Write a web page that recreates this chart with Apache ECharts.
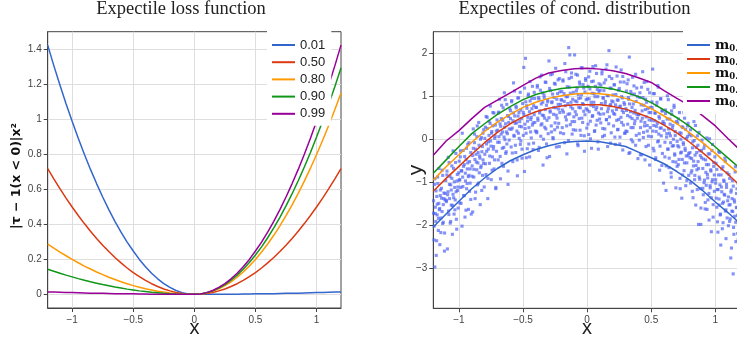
<!DOCTYPE html>
<html>
<head>
<meta charset="utf-8">
<script src="https://cdn.jsdelivr.net/npm/echarts@6/dist/echarts.min.js"></script>
<style>html,body{margin:0;padding:0;background:#fff;}#c{width:737px;height:341px;}</style>
</head>
<body>
<div id="c"></div>
<script>
// ---------- Left panel: expectile loss ----------
const xLoss = [-1.2,-1.15,-1.1,-1.05,-1.0,-0.95,-0.9,-0.85,-0.8,-0.75,-0.7,-0.65,-0.6,-0.55,-0.5,-0.45,-0.4,-0.35,-0.3,-0.25,-0.2,-0.15,-0.1,-0.05,0,
  0.05,0.1,0.15,0.2,0.25,0.3,0.35,0.4,0.45,0.5,0.55,0.6,0.65,0.7,0.75,0.8,0.85,0.9,0.95,1.0,1.05,1.1,1.15,1.2];
const loss001 = [1.426,1.309,1.198,1.091,0.990,0.893,0.802,0.715,0.634,0.557,0.485,0.418,0.356,0.299,0.248,0.200,0.158,0.121,0.089,0.062,0.040,0.022,0.010,0.002,0,
  0.000,0.000,0.000,0.000,0.001,0.001,0.001,0.002,0.002,0.003,0.003,0.004,0.004,0.005,0.006,0.006,0.007,0.008,0.009,0.010,0.011,0.012,0.013,0.014];
const loss050 = [0.720,0.661,0.605,0.551,0.500,0.451,0.405,0.361,0.320,0.281,0.245,0.211,0.180,0.151,0.125,0.101,0.080,0.061,0.045,0.031,0.020,0.011,0.005,0.001,0,
  0.001,0.005,0.011,0.020,0.031,0.045,0.061,0.080,0.101,0.125,0.151,0.180,0.211,0.245,0.281,0.320,0.361,0.405,0.451,0.500,0.551,0.605,0.661,0.720];
const loss080 = [0.288,0.265,0.242,0.221,0.200,0.181,0.162,0.145,0.128,0.113,0.098,0.085,0.072,0.061,0.050,0.041,0.032,0.025,0.018,0.013,0.008,0.005,0.002,0.001,0,
  0.002,0.008,0.018,0.032,0.050,0.072,0.098,0.128,0.162,0.200,0.242,0.288,0.338,0.392,0.450,0.512,0.578,0.648,0.722,0.800,0.882,0.968,1.058,1.152];
const loss090 = [0.144,0.132,0.121,0.110,0.100,0.090,0.081,0.072,0.064,0.056,0.049,0.042,0.036,0.030,0.025,0.020,0.016,0.012,0.009,0.006,0.004,0.002,0.001,0.000,0,
  0.002,0.009,0.020,0.036,0.056,0.081,0.110,0.144,0.182,0.225,0.272,0.324,0.380,0.441,0.506,0.576,0.650,0.729,0.812,0.900,0.992,1.089,1.190,1.296];
const loss099 = [0.014,0.013,0.012,0.011,0.010,0.009,0.008,0.007,0.006,0.006,0.005,0.004,0.004,0.003,0.003,0.002,0.002,0.001,0.001,0.001,0.000,0.000,0.000,0.000,0,
  0.002,0.010,0.022,0.040,0.062,0.089,0.121,0.158,0.200,0.248,0.299,0.356,0.418,0.485,0.557,0.634,0.715,0.802,0.893,0.990,1.091,1.198,1.309,1.426];
const lossNames = ['0.01','0.50','0.80','0.90','0.99'];
const leftXTicks = [-1,-0.5,0,0.5,1];
const leftYTicks = [0,0.2,0.4,0.6,0.8,1,1.2,1.4];

// ---------- Right panel: expectile curves of conditional distribution ----------
const xCurve = [-1.2,-1.1,-1.0,-0.9,-0.8,-0.7,-0.6,-0.5,-0.4,-0.3,-0.2,-0.1,0,0.1,0.2,0.3,0.4,0.5,0.6,0.7,0.8,0.9,1.0,1.1,1.2];
const m001 = [-2.04,-1.74,-1.44,-1.15,-0.90,-0.68,-0.50,-0.36,-0.24,-0.15,-0.08,-0.05,-0.04,-0.06,-0.11,-0.17,-0.30,-0.43,-0.57,-0.75,-0.95,-1.19,-1.46,-1.71,-1.98];
const m050 = [-1.21,-0.91,-0.63,-0.35,-0.08,0.16,0.36,0.52,0.64,0.72,0.77,0.80,0.80,0.80,0.76,0.70,0.60,0.49,0.33,0.15,-0.07,-0.31,-0.56,-0.82,-1.10];
const m080 = [-0.95,-0.64,-0.36,-0.07,0.18,0.40,0.58,0.74,0.86,0.95,1.01,1.05,1.07,1.06,1.02,0.95,0.85,0.71,0.54,0.36,0.15,-0.08,-0.33,-0.59,-0.84];
const m090 = [-0.79,-0.48,-0.17,0.13,0.36,0.58,0.76,0.92,1.04,1.12,1.18,1.21,1.22,1.21,1.17,1.09,0.99,0.85,0.68,0.50,0.30,0.07,-0.18,-0.44,-0.70];
const m099 = [-0.37,-0.04,0.20,0.48,0.74,0.91,1.08,1.25,1.42,1.54,1.60,1.64,1.65,1.63,1.59,1.53,1.43,1.32,1.13,0.95,0.78,0.55,0.31,0.01,-0.27];
const curveNames = ['m0.01','m0.50','m0.80','m0.90','m0.99'];
const rightXTicks = [-1,-0.5,0,0.5,1];
const rightYTicks = [-3,-2,-1,0,1,2];

const scatterPoints = [
[-1.198,-1.72],[-1.195,-2.34],[-1.191,-1.05],[-1.188,-2.97],[-1.184,-1.58],[-1.181,-1.91],[-1.177,-2.70],[-1.173,-1.33],[-1.170,-1.76],[-1.166,-0.88],[-1.161,-2.12],[-1.157,-1.49],[-1.153,-1.64],[-1.149,-2.45],[-1.145,-1.18],[-1.140,-1.83],[-1.136,-1.37],[-1.131,-0.72],[-1.127,-1.96],[-1.122,-1.52],[-1.117,-1.25],[-1.112,-2.18],[-1.108,-1.41],[-1.103,-0.96],
[-1.098,-1.45],[-1.094,-0.83],[-1.090,-2.55],[-1.085,-1.22],[-1.081,-1.67],[-1.077,-0.54],[-1.073,-1.38],[-1.068,-1.95],[-1.064,-1.06],[-1.060,-1.53],[-1.055,-0.91],[-1.051,-2.21],[-1.046,-1.28],[-1.042,-0.68],[-1.038,-1.74],[-1.033,-1.12],[-1.029,-1.41],[-1.024,-0.33],[-1.020,-1.86],[-1.015,-0.97],[-1.011,-1.19],[-1.006,-1.60],[-1.002,-0.78],
[-0.998,-0.95],[-0.993,-1.48],[-0.989,-0.41],[-0.985,-1.12],[-0.980,-0.73],[-0.976,-2.02],[-0.971,-0.88],[-0.967,-0.26],[-0.962,-1.31],[-0.958,-0.59],[-0.953,-1.81],[-0.949,-0.97],[-0.944,-0.47],[-0.940,-1.15],[-0.935,-0.69],[-0.931,-0.12],[-0.926,-1.63],[-0.922,-0.84],[-0.917,-0.52],[-0.913,-1.02],[-0.908,-0.31],[-0.904,-1.74],
[-0.897,-0.62],[-0.893,-1.69],[-0.888,-0.21],[-0.884,-0.88],[-0.879,0.12],[-0.875,-0.47],[-0.870,-1.23],[-0.866,-0.35],[-0.861,-0.71],[-0.857,0.31],[-0.852,-0.55],[-0.848,-1.02],[-0.843,-0.14],[-0.839,-0.39],[-0.834,-1.52],[-0.830,-0.66],[-0.825,0.04],[-0.821,-0.29],[-0.816,-0.84],[-0.812,-0.48],[-0.807,0.22],[-0.803,-1.11],
[-0.798,-0.35],[-0.794,0.28],[-0.789,-0.82],[-0.785,-0.11],[-0.780,0.51],[-0.775,-1.38],[-0.771,-0.23],[-0.766,0.09],[-0.762,-0.56],[-0.757,0.37],[-0.753,-0.04],[-0.748,-0.94],[-0.744,0.18],[-0.739,-0.41],[-0.735,0.62],[-0.730,-0.17],[-0.726,-0.69],[-0.721,0.02],[-0.716,0.33],[-0.712,-1.12],[-0.707,-0.28],[-0.703,0.45],
[-0.698,0.21],[-0.694,-0.48],[-0.689,0.63],[-0.685,-0.07],[-0.680,0.36],[-0.676,-0.92],[-0.671,0.12],[-0.667,0.79],[-0.662,-0.21],[-0.658,0.44],[-0.653,-0.63],[-0.648,0.05],[-0.644,0.28],[-0.639,0.92],[-0.635,-0.33],[-0.630,0.17],[-0.626,-0.11],[-0.621,0.55],[-0.617,-1.05],[-0.612,0.39],[-0.608,-0.02],[-0.603,0.71],
[-0.598,0.48],[-0.593,-0.18],[-0.589,0.87],[-0.584,0.26],[-0.580,-0.52],[-0.575,0.61],[-0.571,0.09],[-0.566,1.12],[-0.562,0.37],[-0.557,-0.31],[-0.553,0.73],[-0.548,0.19],[-0.544,-0.85],[-0.539,0.54],[-0.535,0.96],[-0.530,0.02],[-0.526,0.41],[-0.521,-0.12],[-0.517,0.68],[-0.512,0.29],[-0.508,-0.44],[-0.503,0.83],
[-0.498,0.62],[-0.494,1.67],[-0.489,-0.75],[-0.485,0.35],[-0.481,1.88],[-0.476,0.14],[-0.472,0.78],[-0.467,-0.22],[-0.463,0.51],[-0.458,1.05],[-0.454,0.27],[-0.449,-0.41],[-0.445,0.89],[-0.440,0.46],[-0.436,0.03],[-0.431,0.71],[-0.427,1.23],[-0.422,0.38],[-0.418,-0.09],[-0.413,0.57],[-0.409,0.95],[-0.404,0.19],
[-0.398,0.74],[-0.394,0.18],[-0.389,1.21],[-0.385,0.49],[-0.380,-0.26],[-0.376,0.93],[-0.371,0.61],[-0.367,1.45],[-0.362,0.07],[-0.358,0.82],[-0.353,0.36],[-0.349,1.08],[-0.344,-0.60],[-0.340,0.55],[-0.335,0.97],[-0.331,0.28],[-0.326,0.69],[-0.322,1.32],[-0.317,-0.11],[-0.313,0.44],[-0.308,0.87],[-0.304,0.13],
[-0.298,1.82],[-0.293,-0.40],[-0.289,0.66],[-0.285,1.13],[-0.280,0.31],[-0.276,0.85],[-0.271,1.52],[-0.267,0.04],[-0.262,0.58],[-0.258,0.97],[-0.253,0.22],[-0.249,1.28],[-0.244,0.73],[-0.240,-0.18],[-0.235,0.49],[-0.231,1.06],[-0.226,0.81],[-0.222,0.37],[-0.217,1.41],[-0.213,0.62],[-0.208,0.15],[-0.204,0.92],
[-0.198,0.91],[-0.194,0.27],[-0.189,1.38],[-0.185,0.63],[-0.180,1.06],[-0.176,-0.08],[-0.171,0.78],[-0.167,1.57],[-0.162,0.45],[-0.158,-0.34],[-0.153,0.99],[-0.149,0.58],[-0.144,2.13],[-0.140,1.21],[-0.135,1.96],[-0.131,0.34],[-0.126,0.86],[-0.122,1.44],[-0.117,0.12],[-0.113,0.71],[-0.108,1.09],[-0.104,0.52],
[-0.098,1.96],[-0.093,0.64],[-0.089,0.21],[-0.084,1.12],[-0.080,0.87],[-0.075,1.49],[-0.071,-0.15],[-0.066,0.95],[-0.062,0.48],[-0.057,1.28],[-0.053,0.73],[-0.048,0.09],[-0.044,1.04],[-0.039,1.66],[-0.035,0.39],[-0.030,0.81],[-0.026,1.19],[-0.021,-0.28],[-0.017,0.57],[-0.012,1.37],[-0.008,0.92],[-0.003,0.26],
[0.003,0.68],[0.007,1.23],[0.012,0.11],[0.016,0.94],[0.021,1.58],[0.025,0.42],[0.030,0.79],[0.034,-0.21],[0.039,1.07],[0.043,0.55],[0.048,1.35],[0.052,0.86],[0.057,0.18],[0.061,0.99],[0.066,1.71],[0.070,0.33],[0.075,0.74],[0.079,1.16],[0.084,-0.06],[0.088,0.61],[0.093,1.29],[0.097,0.47],
[0.102,1.14],[0.106,0.38],[0.111,0.83],[0.115,1.52],[0.120,0.06],[0.124,0.97],[0.129,0.59],[0.133,1.31],[0.138,0.24],[0.142,0.88],[0.147,1.63],[0.151,0.45],[0.156,1.02],[0.160,-0.17],[0.165,0.71],[0.170,2.06],[0.174,0.52],[0.179,1.19],[0.183,0.81],[0.188,0.15],[0.192,1.41],[0.197,0.66],
[0.202,0.87],[0.206,0.31],[0.211,1.26],[0.215,0.58],[0.220,-0.12],[0.224,1.04],[0.229,0.69],[0.233,1.47],[0.238,0.22],[0.242,0.91],[0.247,0.46],[0.251,1.18],[0.256,0.05],[0.260,0.77],[0.265,1.61],[0.269,0.39],[0.274,0.96],[0.278,-0.25],[0.283,0.62],[0.287,1.33],[0.292,0.81],[0.296,0.14],
[0.302,0.71],[0.306,1.12],[0.311,0.18],[0.315,0.55],[0.320,1.38],[0.324,0.93],[0.329,1.91],[0.333,-0.31],[0.338,0.64],[0.342,0.27],[0.347,1.05],[0.351,0.48],[0.356,-0.06],[0.360,0.82],[0.365,1.24],[0.369,0.36],[0.374,0.67],[0.378,1.51],[0.383,0.09],[0.387,0.58],[0.392,0.99],[0.396,-0.45],
[0.402,0.58],[0.406,0.13],[0.411,0.97],[0.415,-0.36],[0.420,0.42],[0.424,1.21],[0.429,0.66],[0.433,1.57],[0.438,0.04],[0.442,0.79],[0.447,0.31],[0.451,-0.48],[0.456,0.93],[0.460,0.52],[0.465,1.34],[0.469,0.19],[0.474,0.71],[0.478,-0.14],[0.483,0.45],[0.487,1.08],[0.492,0.27],[0.496,0.62],
[0.502,0.44],[0.506,0.87],[0.511,1.63],[0.515,-0.21],[0.520,0.32],[0.524,1.06],[0.529,0.61],[0.533,-0.47],[0.538,0.18],[0.542,0.79],[0.547,0.37],[0.551,1.25],[0.556,-0.04],[0.560,0.53],[0.565,-0.72],[0.569,0.26],[0.574,0.94],[0.578,0.08],[0.583,0.66],[0.587,-0.33],[0.592,0.41],[0.596,-1.02],
[0.602,0.21],[0.606,-0.41],[0.611,0.68],[0.615,-1.19],[0.620,0.05],[0.624,0.47],[0.629,-0.23],[0.633,0.92],[0.638,-0.66],[0.642,0.14],[0.647,0.35],[0.651,-0.08],[0.656,-0.88],[0.660,0.58],[0.665,0.26],[0.669,-0.52],[0.674,-0.15],[0.678,0.74],[0.683,-0.37],[0.687,0.09],[0.692,-1.13],[0.696,0.41],
[0.702,-0.05],[0.706,0.38],[0.711,-0.59],[0.715,-0.18],[0.720,0.62],[0.724,-0.91],[0.729,-0.32],[0.733,0.14],[0.738,-1.37],[0.742,-0.47],[0.747,0.27],[0.751,-0.12],[0.756,-0.73],[0.760,0.49],[0.765,-0.26],[0.769,-1.08],[0.774,0.02],[0.778,-0.55],[0.783,0.31],[0.787,-0.38],[0.792,-0.84],[0.796,0.11],
[0.802,-0.31],[0.806,0.22],[0.811,-0.78],[0.815,-0.45],[0.820,-1.21],[0.824,-0.06],[0.829,-0.62],[0.833,0.41],[0.838,-0.94],[0.842,-0.37],[0.847,-1.53],[0.851,-0.19],[0.856,-0.71],[0.860,0.08],[0.865,-0.52],[0.869,-1.98],[0.874,-0.88],[0.878,-0.27],[0.883,-1.15],[0.887,-1.98],[0.892,-0.43],[0.896,-0.02],
[0.902,-0.68],[0.906,-1.29],[0.911,-0.21],[0.915,-0.95],[0.920,-1.62],[0.924,-0.48],[0.929,-1.07],[0.933,0.03],[0.938,-0.82],[0.942,-1.41],[0.947,-0.59],[0.951,-1.88],[0.956,-0.34],[0.960,-1.13],[0.965,-0.74],[0.969,-2.15],[0.974,-0.99],[0.978,-0.12],[0.983,-1.52],[0.987,-0.63],[0.992,-1.21],[0.996,-0.41],
[1.002,-1.02],[1.006,-0.56],[1.011,-1.58],[1.015,-1.17],[1.020,-2.16],[1.024,-0.83],[1.029,-1.39],[1.033,-0.31],[1.038,-1.76],[1.042,-2.46],[1.047,-1.11],[1.051,-0.69],[1.056,-1.49],[1.060,-1.94],[1.065,-0.95],[1.069,-1.28],[1.074,-0.44],[1.078,-1.67],[1.083,-2.31],[1.087,-1.05],[1.092,-0.78],[1.096,-1.43],
[1.102,-1.34],[1.106,-0.82],[1.111,-1.91],[1.115,-1.52],[1.120,-2.76],[1.124,-1.18],[1.129,-1.67],[1.133,-0.96],[1.139,-3.13],[1.142,-2.05],[1.147,-1.41],[1.151,-1.79],[1.156,-0.64],[1.160,-2.38],[1.165,-1.26],[1.169,-1.58],[1.174,-2.19],[1.178,-1.03],[1.183,-1.85],[1.187,-2.62],[1.192,-1.47],[1.196,-1.12],
// second batch
[-1.1979,-1.43],[-1.1932,-2.02],[-1.1883,-0.92],[-1.1837,-1.73],[-1.1786,-1.20],[-1.1741,-2.36],[-1.1694,-1.51],[-1.1648,-1.03],[-1.1599,-1.84],[-1.1553,-0.68],[-1.1502,-1.61],[-1.1457,-1.31],[-1.1411,-2.17],[-1.1362,-1.14],[-1.1316,-1.68],[-1.1269,-0.84],[-1.1221,-1.93],[-1.1174,-1.38],[-1.1128,-2.60],[-1.1079,-1.26],
[-1.0979,-1.42],[-1.0932,-0.74],[-1.0883,-1.29],[-1.0837,-0.42],[-1.0786,-1.75],[-1.0741,-1.05],[-1.0694,-0.87],[-1.0648,-1.91],[-1.0599,-1.18],[-1.0553,-0.62],[-1.0502,-1.54],[-1.0457,-0.27],[-1.0411,-1.36],[-1.0362,-0.99],[-1.0316,-1.64],[-1.0269,-0.54],[-1.0221,-1.22],[-1.0174,-2.09],[-1.0128,-0.82],[-1.0079,-1.11],
[-0.9979,-0.51],[-0.9932,-0.94],[-0.9883,-0.27],[-0.9837,-1.49],[-0.9786,-0.74],[-0.9741,0.14],[-0.9694,-1.10],[-0.9648,-0.63],[-0.9599,-1.31],[-0.9553,-0.40],[-0.9502,-0.79],[-0.9457,-1.65],[-0.9411,-0.21],[-0.9362,-1.03],[-0.9316,-0.55],[-0.9269,-0.87],[-0.9221,-0.08],[-0.9174,-1.21],[-0.9128,-0.69],[-0.9079,-1.40],
[-0.8979,-0.86],[-0.8932,-0.38],[-0.8883,0.24],[-0.8837,-0.70],[-0.8786,-0.08],[-0.8741,-1.38],[-0.8694,-0.23],[-0.8648,-0.53],[-0.8599,0.06],[-0.8553,-1.06],[-0.8502,-0.31],[-0.8457,0.39],[-0.8411,-0.78],[-0.8362,-0.44],[-0.8316,0.00],[-0.8269,-0.62],[-0.8221,-1.19],[-0.8174,-0.17],[-0.8128,0.14],[-0.8079,-0.56],
[-0.7979,0.02],[-0.7932,-0.57],[-0.7883,0.53],[-0.7837,-0.28],[-0.7786,0.25],[-0.7741,-0.91],[-0.7694,-0.06],[-0.7648,0.42],[-0.7599,-0.39],[-0.7553,0.77],[-0.7502,-0.16],[-0.7457,0.14],[-0.7411,-0.72],[-0.7362,0.31],[-0.7316,-0.23],[-0.7269,0.61],[-0.7221,-0.48],[-0.7174,0.07],[-0.7128,-1.15],[-0.7079,0.19],
[-0.6979,-0.07],[-0.6932,0.61],[-0.6883,0.06],[-0.6837,0.93],[-0.6786,-0.40],[-0.6741,0.30],[-0.6694,0.48],[-0.6648,-0.56],[-0.6599,0.17],[-0.6553,0.73],[-0.6502,-0.19],[-0.6457,1.08],[-0.6411,-0.01],[-0.6362,0.36],[-0.6316,-0.29],[-0.6269,0.81],[-0.6221,0.13],[-0.6174,-0.74],[-0.6128,0.53],[-0.6079,0.24],
[-0.5979,0.66],[-0.5932,0.23],[-0.5883,0.90],[-0.5837,-0.32],[-0.5786,0.43],[-0.5741,1.31],[-0.5694,0.07],[-0.5648,0.54],[-0.5599,-0.14],[-0.5553,0.77],[-0.5502,0.38],[-0.5457,-0.48],[-0.5411,0.96],[-0.5362,0.14],[-0.5316,0.62],[-0.5269,0.30],[-0.5221,1.09],[-0.5174,-0.04],[-0.5128,0.48],[-0.5079,-0.23],
[-0.4979,0.09],[-0.4932,0.57],[-0.4883,1.19],[-0.4837,0.25],[-0.4786,0.87],[-0.4741,-0.43],[-0.4694,0.72],[-0.4648,0.42],[-0.4599,1.01],[-0.4553,-0.11],[-0.4502,0.64],[-0.4457,1.34],[-0.4411,0.17],[-0.4362,0.51],[-0.4316,0.95],[-0.4269,0.33],[-0.4221,-0.24],[-0.4174,0.78],[-0.4128,1.09],[-0.4079,0.39],
[-0.3979,0.74],[-0.3932,0.15],[-0.3883,1.25],[-0.3837,0.44],[-0.3786,0.97],[-0.3741,-0.19],[-0.3694,0.66],[-0.3648,1.14],[-0.3599,0.33],[-0.3553,1.49],[-0.3502,0.56],[-0.3457,0.86],[-0.3411,0.00],[-0.3362,1.03],[-0.3316,0.49],[-0.3269,1.33],[-0.3221,0.24],[-0.3174,0.79],[-0.3128,-0.43],[-0.3079,0.91],
[-0.2979,0.50],[-0.2932,1.18],[-0.2883,0.63],[-0.2837,1.50],[-0.2786,0.17],[-0.2741,0.87],[-0.2694,1.05],[-0.2648,0.01],[-0.2599,0.74],[-0.2553,1.30],[-0.2502,0.38],[-0.2457,1.65],[-0.2411,0.56],[-0.2362,0.93],[-0.2316,0.28],[-0.2269,1.38],[-0.2221,0.70],[-0.2174,-0.17],[-0.2128,1.10],[-0.2079,0.81],
[-0.1979,1.11],[-0.1932,0.68],[-0.1883,1.35],[-0.1837,0.13],[-0.1786,0.88],[-0.1741,1.76],[-0.1694,0.52],[-0.1648,0.99],[-0.1599,0.31],[-0.1553,1.22],[-0.1502,0.83],[-0.1457,-0.03],[-0.1411,1.41],[-0.1362,0.59],[-0.1316,1.07],[-0.1269,0.75],[-0.1221,1.54],[-0.1174,0.41],[-0.1128,0.93],[-0.1079,0.22],
[-0.0979,0.41],[-0.0932,0.89],[-0.0883,1.51],[-0.0837,0.57],[-0.0786,1.19],[-0.0741,-0.11],[-0.0694,1.04],[-0.0648,0.74],[-0.0599,1.33],[-0.0553,0.21],[-0.0502,0.96],[-0.0457,1.66],[-0.0411,0.49],[-0.0362,0.83],[-0.0316,1.27],[-0.0269,0.65],[-0.0221,0.08],[-0.0174,1.10],[-0.0128,1.41],[-0.0079,0.71],
[0.0021,0.94],[0.0068,0.35],[0.0117,1.45],[0.0163,0.64],[0.0214,1.17],[0.0259,0.01],[0.0306,0.86],[0.0352,1.34],[0.0401,0.53],[0.0447,1.69],[0.0498,0.76],[0.0543,1.06],[0.0589,0.20],[0.0638,1.23],[0.0684,0.69],[0.0731,1.53],[0.0779,0.44],[0.0826,0.99],[0.0872,-0.23],[0.0921,1.11],
[0.1021,0.58],[0.1068,1.26],[0.1117,0.71],[0.1163,1.58],[0.1214,0.25],[0.1259,0.95],[0.1306,1.13],[0.1352,0.09],[0.1401,0.82],[0.1447,1.38],[0.1498,0.46],[0.1543,1.73],[0.1589,0.64],[0.1638,1.01],[0.1684,0.36],[0.1731,1.46],[0.1779,0.78],[0.1826,-0.09],[0.1872,1.18],[0.1921,0.89],
[0.2021,1.03],[0.2068,0.60],[0.2117,1.27],[0.2163,0.05],[0.2214,0.80],[0.2259,1.68],[0.2306,0.44],[0.2352,0.91],[0.2401,0.23],[0.2447,1.14],[0.2498,0.75],[0.2543,-0.11],[0.2589,1.33],[0.2638,0.51],[0.2684,0.99],[0.2731,0.67],[0.2779,1.46],[0.2826,0.33],[0.2872,0.85],[0.2921,0.14],
[0.3021,0.19],[0.3068,0.67],[0.3117,1.29],[0.3163,0.35],[0.3214,0.97],[0.3259,-0.33],[0.3306,0.82],[0.3352,0.52],[0.3401,1.11],[0.3447,-0.01],[0.3498,0.74],[0.3543,1.44],[0.3589,0.27],[0.3638,0.61],[0.3684,1.05],[0.3731,0.43],[0.3779,-0.14],[0.3826,0.88],[0.3872,1.19],[0.3921,0.49],
[0.4021,0.57],[0.4068,-0.02],[0.4117,1.08],[0.4163,0.27],[0.4214,0.80],[0.4259,-0.36],[0.4306,0.49],[0.4352,0.97],[0.4401,0.16],[0.4447,1.32],[0.4498,0.39],[0.4543,0.69],[0.4589,-0.17],[0.4638,0.86],[0.4684,0.32],[0.4731,1.16],[0.4779,0.07],[0.4826,0.62],[0.4872,-0.60],[0.4921,0.74],
[0.5021,0.06],[0.5068,0.74],[0.5117,0.19],[0.5163,1.06],[0.5214,-0.27],[0.5259,0.43],[0.5306,0.61],[0.5352,-0.43],[0.5401,0.30],[0.5447,0.86],[0.5498,-0.06],[0.5543,1.21],[0.5589,0.12],[0.5638,0.49],[0.5684,-0.16],[0.5731,0.94],[0.5779,0.26],[0.5826,-0.61],[0.5872,0.66],[0.5921,0.37],
[0.6021,0.36],[0.6068,-0.07],[0.6117,0.60],[0.6163,-0.62],[0.6214,0.13],[0.6259,1.01],[0.6306,-0.23],[0.6352,0.24],[0.6401,-0.44],[0.6447,0.47],[0.6498,0.08],[0.6543,-0.78],[0.6589,0.66],[0.6638,-0.16],[0.6684,0.32],[0.6731,0.00],[0.6779,0.79],[0.6826,-0.34],[0.6872,0.18],[0.6921,-0.53],
[0.7021,-0.63],[0.7068,-0.15],[0.7117,0.47],[0.7163,-0.47],[0.7214,0.15],[0.7259,-1.15],[0.7306,0.00],[0.7352,-0.30],[0.7401,0.29],[0.7447,-0.83],[0.7498,-0.08],[0.7543,0.62],[0.7589,-0.55],[0.7638,-0.21],[0.7684,0.23],[0.7731,-0.39],[0.7779,-0.96],[0.7826,0.06],[0.7872,0.37],[0.7921,-0.33],
[0.8021,-0.43],[0.8068,-1.02],[0.8117,0.08],[0.8163,-0.73],[0.8214,-0.20],[0.8259,-1.36],[0.8306,-0.51],[0.8352,-0.03],[0.8401,-0.84],[0.8447,0.32],[0.8498,-0.61],[0.8543,-0.31],[0.8589,-1.17],[0.8638,-0.14],[0.8684,-0.68],[0.8731,0.16],[0.8779,-0.93],[0.8826,-0.38],[0.8872,-1.60],[0.8921,-0.26],
[0.9021,-1.14],[0.9068,-0.46],[0.9117,-1.01],[0.9163,-0.14],[0.9214,-1.47],[0.9259,-0.77],[0.9306,-0.59],[0.9352,-1.63],[0.9401,-0.90],[0.9447,-0.34],[0.9498,-1.26],[0.9543,0.01],[0.9589,-1.08],[0.9638,-0.71],[0.9684,-1.36],[0.9731,-0.26],[0.9779,-0.94],[0.9826,-1.81],[0.9872,-0.54],[0.9921,-0.83],
[1.0021,-0.94],[1.0068,-1.37],[1.0117,-0.70],[1.0163,-1.92],[1.0214,-1.17],[1.0259,-0.29],[1.0306,-1.53],[1.0352,-1.06],[1.0401,-1.74],[1.0447,-0.83],[1.0498,-1.22],[1.0543,-2.08],[1.0589,-0.64],[1.0638,-1.46],[1.0684,-0.98],[1.0731,-1.30],[1.0779,-0.51],[1.0826,-1.64],[1.0872,-1.12],[1.0921,-1.83],
[1.1021,-2.01],[1.1068,-1.53],[1.1117,-0.91],[1.1163,-1.85],[1.1214,-1.23],[1.1259,-2.53],[1.1306,-1.38],[1.1352,-1.68],[1.1401,-1.09],[1.1447,-2.21],[1.1498,-1.46],[1.1543,-0.76],[1.1589,-1.93],[1.1638,-1.59],[1.1684,-1.15],[1.1731,-1.77],[1.1779,-2.34],[1.1826,-1.32],[1.1872,-1.01],[1.1921,-1.71]
];

const palette = ['#3366cc','#dc3912','#ff9900','#109618','#990099'];
const minus = v => String(v).replace('-', '\u2212');
const tickFont = {fontFamily:'Liberation Sans', fontSize:10, color:'#444'};
const axisLineStyle = {color:'#444', width:1};
const gridLine = {show:true, lineStyle:{color:'#dedede', width:1}};

function xAxisCfg(gi, ticks){
  return {gridIndex:gi, type:'value', min:-1.2, max:1.2,
    axisLine:{show:true, onZero:false, lineStyle:axisLineStyle},
    axisTick:{show:true, length:4, customValues:ticks, lineStyle:axisLineStyle},
    axisLabel:Object.assign({customValues:ticks, margin:7, formatter:minus}, tickFont),
    splitLine:gridLine};
}
function yAxisCfg(gi, min, max, ticks){
  return {gridIndex:gi, type:'value', min:min, max:max,
    axisLine:{show:true, onZero:false, lineStyle:axisLineStyle},
    axisTick:{show:true, length:4, customValues:ticks, lineStyle:axisLineStyle},
    axisLabel:Object.assign({customValues:ticks, margin:6, formatter:minus}, tickFont),
    splitLine:gridLine};
}

const lossData = [loss001, loss050, loss080, loss090, loss099];
const curveData = [m001, m050, m080, m090, m099];

const series = [];
lossData.forEach((arr, i) => {
  series.push({type:'line', name:lossNames[i], xAxisIndex:0, yAxisIndex:0,
    data:xLoss.map((x, j) => [x, arr[j]]), symbol:'none', showSymbol:false,
    lineStyle:{color:palette[i], width:1.5}, itemStyle:{color:palette[i]}, z:3, silent:true});
});
series.push({type:'scatter', name:'data', xAxisIndex:1, yAxisIndex:1, data:scatterPoints,
  symbol:'rect', symbolSize:3.1, itemStyle:{color:'rgba(80,100,245,0.88)'}, z:2, silent:true});
curveData.forEach((arr, i) => {
  series.push({type:'line', name:curveNames[i], xAxisIndex:1, yAxisIndex:1,
    data:xCurve.map((x, j) => [x, arr[j]]), symbol:'none', showSymbol:false,
    lineStyle:{color:palette[i], width:1.5}, itemStyle:{color:palette[i]}, z:3, silent:true});
});

const centerText = {align:'center', textAlign:'center', verticalAlign:'middle', textVerticalAlign:'middle'};
const option = {
  animation:false,
  backgroundColor:'#fff',
  graphic:[
    {type:'text', x:181, y:0, z:10, style:{text:'Expectile loss function', fontFamily:'Liberation Serif', fontSize:18.5, fill:'#222', align:'center', textAlign:'center', verticalAlign:'top', textVerticalAlign:'top'}},
    {type:'text', x:574.5, y:0, z:10, style:{text:'Expectiles of cond. distribution', fontFamily:'Liberation Serif', fontSize:18.5, fill:'#222', align:'center', textAlign:'center', verticalAlign:'top', textVerticalAlign:'top'}},
    {type:'text', x:17, y:176, rotation:Math.PI/2, z:10, style:Object.assign({text:'|\u03c4 \u2212 1(x < 0)|x\u00b2', fontFamily:'DejaVu Sans', fontWeight:'bold', fontSize:12.5, fill:'#111'}, centerText)},
    {type:'text', x:416, y:170, rotation:Math.PI/2, z:10, style:Object.assign({text:'y', fontFamily:'Liberation Sans', fontSize:21, fill:'#222'}, centerText)},
    {type:'text', x:194.5, y:328, z:10, style:Object.assign({text:'x', fontFamily:'Liberation Sans', fontSize:20, fill:'#222'}, centerText)},
    {type:'text', x:587, y:328, z:10, style:Object.assign({text:'x', fontFamily:'Liberation Sans', fontSize:20, fill:'#222'}, centerText)}
  ],
  grid:[
    {left:47.7, top:31.7, width:293.3, height:276.3, outerBoundsMode:'none', containLabel:false, show:true, borderColor:'#444', borderWidth:1, backgroundColor:'rgba(0,0,0,0)'},
    {left:433.3, top:31.7, width:307.7, height:276.6, outerBoundsMode:'none', containLabel:false, show:true, borderColor:'#444', borderWidth:1, backgroundColor:'rgba(0,0,0,0)'}
  ],
  xAxis:[xAxisCfg(0, leftXTicks), xAxisCfg(1, rightXTicks)],
  yAxis:[yAxisCfg(0, -0.078, 1.503, leftYTicks), yAxisCfg(1, -3.93, 2.5, rightYTicks)],
  legend:[
    {data:lossNames, orient:'vertical', left:267, top:31, backgroundColor:'#fff',
      padding:[7,6,5,5], icon:'rect', itemWidth:23, itemHeight:2, itemGap:3.2,
      textStyle:{fontFamily:'Liberation Sans', fontSize:13, lineHeight:14, color:'#222'}},
    {data:curveNames, orient:'vertical', left:683, top:31, backgroundColor:'#fff',
      padding:[6,6,5,4], icon:'rect', itemWidth:23, itemHeight:2, itemGap:-2,
      formatter: n => '{m|m}{s|' + n.slice(1) + '}',
      textStyle:{lineHeight:12, rich:{
        m:{fontFamily:'DejaVu Serif', fontWeight:'bold', fontSize:13.5, color:'#111', lineHeight:12},
        s:{fontFamily:'DejaVu Serif', fontWeight:'bold', fontSize:8.5, color:'#111', lineHeight:9, padding:[7,0,0,0]}
      }}}
  ],
  series:series
};

const chart = echarts.init(document.getElementById('c'), null, {renderer:'canvas'});
chart.setOption(option);
</script>
</body>
</html>
